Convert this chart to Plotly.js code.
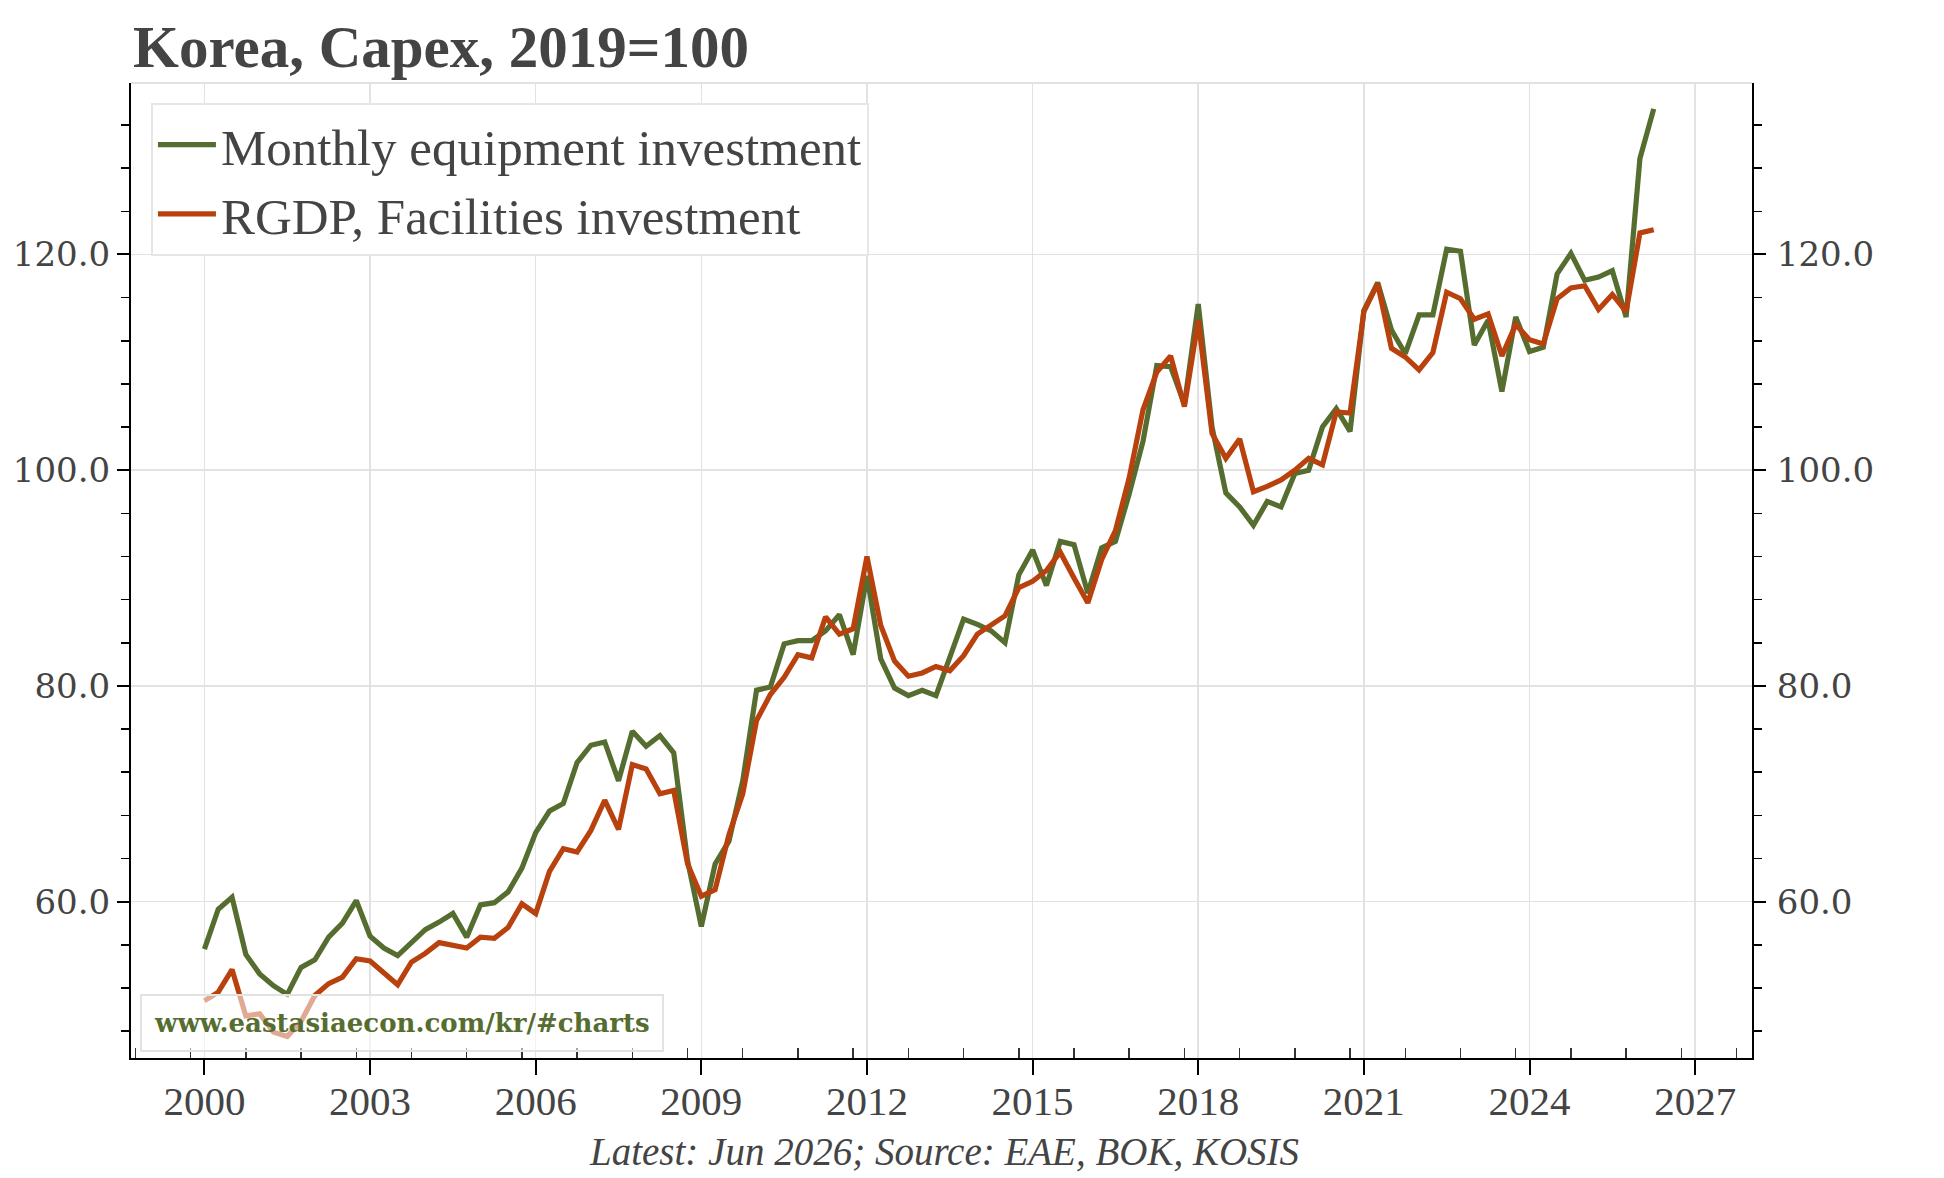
<!DOCTYPE html>
<html>
<head>
<meta charset="utf-8">
<script src="https://cdn.plot.ly/plotly-3.0.1.min.js"></script>
<style>
  html, body { margin: 0; padding: 0; background: #ffffff; }
  #chart { width: 1944px; height: 1178px; }
</style>
</head>
<body>
<div id="chart"></div>
<script>
// Quarterly series, first quarter = 2000 Q1
const startYear = 2000;

const equipmentInvestment = [
  55.6, 59.3, 60.4, 55.1, 53.3, 52.2, 51.4, 53.9, 54.6, 56.7,
  58.0, 60.1, 56.8, 55.7, 55.0, 56.2, 57.4, 58.1, 58.9, 56.7,
  59.7, 59.9, 60.9, 63.1, 66.4, 68.4, 69.1, 72.9, 74.5, 74.8,
  71.2, 75.8, 74.4, 75.4, 73.8, 63.8, 57.7, 63.5, 65.6, 71.2,
  79.6, 79.9, 83.9, 84.2, 84.2, 85.1, 86.6, 82.9, 90.2, 82.5,
  79.8, 79.1, 79.6, 79.1, 82.6, 86.2, 85.7, 85.1, 84.0, 90.3,
  92.6, 89.3, 93.4, 93.1, 88.6, 92.8, 93.4, 97.8, 102.7, 109.7,
  109.6, 106.1, 115.4, 104.0, 97.9, 96.6, 94.9, 97.1, 96.6, 99.7,
  100.0, 104.0, 105.7, 103.6, 114.8, 117.4, 113.0, 110.8, 114.4, 114.4,
  120.5, 120.3, 111.6, 113.9, 107.3, 114.2, 111.0, 111.4, 118.2, 120.1,
  117.6, 117.9, 118.5, 114.2, 128.9, 133.5
];

const facilitiesInvestment = [
  50.8, 51.6, 53.7, 49.4, 49.6, 47.9, 47.5, 48.9, 51.3, 52.4,
  53.0, 54.7, 54.5, 53.4, 52.3, 54.4, 55.2, 56.2, 56.0, 55.7,
  56.7, 56.6, 57.6, 59.8, 58.9, 62.8, 64.9, 64.6, 66.6, 69.4,
  66.7, 72.7, 72.3, 70.0, 70.3, 63.5, 60.5, 61.1, 66.2, 70.0,
  76.8, 79.2, 80.8, 82.9, 82.6, 86.4, 84.8, 85.3, 92.0, 85.6,
  82.3, 80.9, 81.2, 81.8, 81.4, 82.8, 84.8, 85.7, 86.5, 89.1,
  89.7, 90.7, 92.4, 90.0, 87.7, 91.7, 94.4, 99.3, 105.6, 109.1,
  110.6, 105.9, 113.9, 103.4, 101.1, 102.9, 98.0, 98.5, 99.1, 100.0,
  101.1, 100.5, 105.4, 105.3, 114.7, 117.3, 111.3, 110.5, 109.3, 110.9,
  116.5, 115.9, 114.0, 114.5, 110.6, 113.5, 112.1, 111.7, 115.9, 116.9,
  117.1, 114.9, 116.3, 114.7, 122.0, 122.3
];

const seriesNames = ['Monthly equipment investment', 'RGDP, Facilities investment'];
const seriesColors = ['#566d30', '#b8410e'];

const titleText = 'Korea, Capex, 2019=100';
const sourceText = 'Latest: Jun 2026; Source: EAE, BOK, KOSIS';
const siteText = 'www.eastasiaecon.com/kr/#charts';

// time axis in fractional years
const quarterX = equipmentInvestment.map((_, i) => startYear + i / 4);

const yRange = [45.5, 135.9];
const xRange = [1998.67, 2028.03];

const serif = 'Liberation Serif, Times New Roman, serif';
const wideSerif = 'DejaVu Serif, serif';
const textGrey = '#444444';
const gridGrey = '#e2e2e2';

const traces = [
  {
    x: quarterX, y: equipmentInvestment, name: seriesNames[0],
    type: 'scatter', mode: 'lines',
    line: { color: seriesColors[0], width: 5.2 },
    xaxis: 'x', yaxis: 'y'
  },
  {
    x: quarterX, y: facilitiesInvestment, name: seriesNames[1],
    type: 'scatter', mode: 'lines',
    line: { color: seriesColors[1], width: 5.2 },
    xaxis: 'x', yaxis: 'y2'
  }
];

const yCommon = {
  range: yRange,
  tick0: 0, dtick: 20,
  tickformat: '.1f',
  ticks: 'outside', ticklen: 12, tickwidth: 2, tickcolor: '#000',
  showline: true, linecolor: '#000', linewidth: 2,
  zeroline: false,
  tickfont: { family: wideSerif, size: 34, color: textGrey },
  minor: { tick0: 0, dtick: 4, ticks: 'outside', ticklen: 8, tickwidth: 1.5, tickcolor: '#000', showgrid: false }
};

const layout = {
  width: 1944, height: 1178,
  paper_bgcolor: '#ffffff', plot_bgcolor: '#ffffff',
  margin: { l: 131, r: 192, t: 83, b: 120, pad: 0 },
  title: {
    text: titleText,
    x: 133 / 1944, xanchor: 'left', xref: 'container',
    y: 1 - 46 / 1178, yanchor: 'middle', yref: 'container',
    font: { family: serif, size: 59, color: textGrey, weight: 'bold' }
  },
  showlegend: true,
  legend: {
    x: 0.0123, y: 0.9795, xanchor: 'left', yanchor: 'top',
    bgcolor: '#ffffff', bordercolor: '#e6e6e6', borderwidth: 2,
    font: { family: serif, size: 51, color: textGrey },
    itemwidth: 58, tracegroupgap: 0
  },
  xaxis: {
    range: xRange,
    tick0: 2000, dtick: 3,
    ticks: 'outside', ticklen: 15, tickwidth: 2, tickcolor: '#000',
    showline: true, linecolor: '#000', linewidth: 2,
    showgrid: true, gridcolor: gridGrey, gridwidth: 1.5,
    zeroline: false,
    ticklabelstandoff: -9,
    tickfont: { family: serif, size: 41, color: textGrey },
    minor: { tick0: 2000.75, dtick: 1, ticks: 'inside', ticklen: 10, tickwidth: 1.5, tickcolor: '#333', showgrid: false }
  },
  yaxis: Object.assign({}, yCommon, {
    side: 'left',
    showgrid: true, gridcolor: gridGrey, gridwidth: 1.5
  }),
  yaxis2: Object.assign({}, yCommon, {
    side: 'right', overlaying: 'y', matches: 'y',
    showgrid: false,
    ticklabelstandoff: 4
  }),
  shapes: [
    { type: 'line', xref: 'paper', yref: 'paper', x0: 0, x1: 1, y0: 1, y1: 1,
      line: { color: gridGrey, width: 2 } }
  ],
  annotations: [
    {
      text: siteText,
      xref: 'paper', yref: 'paper',
      x: 0.0056, y: 0.006, xanchor: 'left', yanchor: 'bottom',
      showarrow: false,
      font: { family: wideSerif, size: 26, color: '#566d30', weight: 'bold' },
      bgcolor: 'rgba(255,255,255,0.55)', bordercolor: '#e2e2e2', borderwidth: 2, borderpad: 12
    },
    {
      text: sourceText,
      xref: 'paper', yref: 'paper',
      x: 0.5015, y: -0.0964, xanchor: 'center', yanchor: 'middle',
      showarrow: false,
      font: { family: serif, size: 39, color: textGrey, style: 'italic' }
    }
  ]
};

Plotly.newPlot('chart', traces, layout, { displayModeBar: false, staticPlot: true });
</script>
</body>
</html>
